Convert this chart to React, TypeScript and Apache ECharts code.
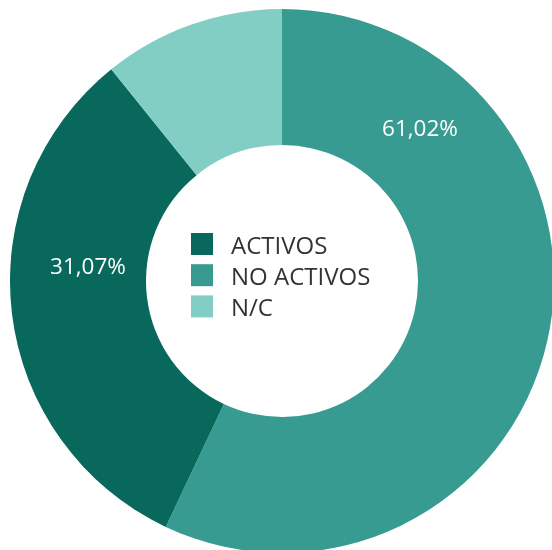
import React, { useEffect, useRef } from "react";
import * as echarts from "echarts";

const categories = ["NO ACTIVOS", "ACTIVOS", "N/C"];
const values = [57.03, 32.17, 10.8];
const labelTexts = ["61,02%", "31,07%", ""];
const legendOrder = ["ACTIVOS", "NO ACTIVOS", "N/C"];
const colors = ["#389b91", "#07685b", "#82cec5"];

export default function App() {
  const ref = useRef<HTMLDivElement>(null);
  useEffect(() => {
    if (!ref.current) return;
    const chart = echarts.init(ref.current, undefined, { renderer: "svg" });
    const labelPos: Record<number, [number, number]> = {
      0: [420, 127],
      1: [88, 265],
    };
    chart.setOption({
      animation: false,
      legend: {
        orient: "vertical",
        left: 191,
        top: 232,
        padding: 0,
        data: legendOrder,
        itemWidth: 22,
        itemHeight: 22,
        itemGap: 7.2,
        icon: "rect",
        textStyle: {
          fontFamily: "Open Sans",
          fontSize: 24,
          lineHeight: 18,
          color: "#333333",
          padding: [4, 0, 0, 13],
        },
      },
      series: [
        {
          type: "pie",
          center: [282, 281],
          radius: [136, 272],
          startAngle: 90,
          clockwise: true,
          avoidLabelOverlap: false,
          label: {
            show: true,
            position: "inside",
            color: "#ffffff",
            fontFamily: "Open Sans",
            fontSize: 22.5,
            formatter: (p: any) => labelTexts[p.dataIndex],
          },
          labelLine: { show: false },
          labelLayout: (p: any) => {
            const pos = labelPos[p.dataIndex];
            if (!pos) return {};
            return { x: pos[0], y: pos[1], align: "center", verticalAlign: "middle" };
          },
          emphasis: { disabled: true },
          itemStyle: { borderWidth: 0 },
          data: categories.map((c, i) => ({
            name: c,
            value: values[i],
            itemStyle: { color: colors[i] },
            label: { show: labelTexts[i] !== "" },
          })),
        },
      ],
    });
    return () => chart.dispose();
  }, []);
  return (
    <div
      ref={ref}
      style={{ position: "fixed", left: 0, top: 0, width: 552, height: 550 }}
    />
  );
}
